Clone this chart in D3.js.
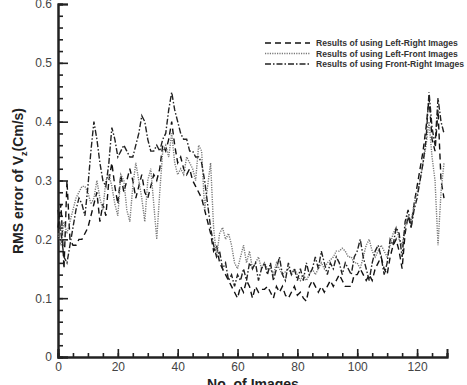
<!DOCTYPE html>
<html>
<head>
<meta charset="utf-8">
<script src="https://cdn.jsdelivr.net/npm/d3@7"></script>
<style>
  body { margin: 0; background: #fff; }
  svg { display: block; font-family: "Liberation Sans", Arial, sans-serif; }
</style>
</head>
<body>
<svg id="chart" width="467" height="385"></svg>
<script>
// RMS error values per image index (0..129)
const leftRight = [
  0.22,0.26,0.15,0.30,0.20,0.19,0.19,0.20,0.20,0.21,
  0.22,0.24,0.26,0.28,0.23,0.26,0.24,0.30,0.33,0.29,
  0.26,0.31,0.28,0.30,0.32,0.30,0.27,0.29,0.31,0.28,
  0.27,0.29,0.31,0.30,0.32,0.36,0.35,0.37,0.40,0.36,
  0.33,0.34,0.32,0.31,0.32,0.30,0.29,0.28,0.27,0.25,
  0.23,0.21,0.18,0.19,0.16,0.15,0.14,0.13,0.12,0.11,
  0.10,0.12,0.11,0.13,0.12,0.10,0.12,0.11,0.115,0.115,
  0.12,0.11,0.10,0.12,0.11,0.12,0.105,0.10,0.11,0.12,
  0.105,0.11,0.10,0.095,0.12,0.13,0.12,0.11,0.12,0.11,
  0.12,0.13,0.12,0.13,0.14,0.13,0.12,0.12,0.12,0.14,
  0.14,0.15,0.14,0.13,0.14,0.13,0.15,0.16,0.17,0.15,
  0.14,0.17,0.19,0.20,0.18,0.15,0.21,0.24,0.22,0.26,
  0.29,0.32,0.35,0.39,0.44,0.37,0.35,0.42,0.30,0.27
];
const leftFront = [
  0.21,0.19,0.23,0.21,0.23,0.25,0.27,0.28,0.29,0.29,
  0.28,0.26,0.27,0.30,0.27,0.25,0.30,0.31,0.29,0.26,
  0.24,0.31,0.30,0.25,0.23,0.29,0.33,0.30,0.27,0.23,
  0.30,0.32,0.26,0.20,0.28,0.35,0.36,0.34,0.38,0.33,
  0.31,0.32,0.31,0.34,0.33,0.32,0.30,0.36,0.35,0.25,
  0.29,0.33,0.22,0.17,0.21,0.22,0.20,0.21,0.19,0.16,
  0.15,0.17,0.19,0.16,0.18,0.15,0.16,0.17,0.15,0.16,
  0.15,0.15,0.14,0.16,0.15,0.14,0.145,0.15,0.14,0.15,
  0.14,0.13,0.14,0.13,0.14,0.15,0.14,0.15,0.16,0.15,
  0.16,0.165,0.17,0.18,0.18,0.185,0.18,0.17,0.17,0.16,
  0.16,0.15,0.17,0.19,0.20,0.18,0.17,0.18,0.19,0.18,
  0.17,0.19,0.21,0.22,0.20,0.19,0.22,0.24,0.23,0.26,
  0.28,0.30,0.33,0.36,0.40,0.34,0.30,0.19,0.28,0.33
];
const frontRight = [
  0.25,0.21,0.17,0.16,0.19,0.22,0.25,0.27,0.26,0.24,
  0.29,0.35,0.40,0.37,0.33,0.30,0.29,0.33,0.39,0.37,
  0.34,0.35,0.36,0.35,0.34,0.34,0.36,0.38,0.41,0.40,
  0.37,0.35,0.35,0.36,0.35,0.37,0.38,0.42,0.45,0.42,
  0.40,0.38,0.37,0.37,0.35,0.35,0.34,0.34,0.33,0.30,
  0.26,0.22,0.19,0.17,0.18,0.15,0.16,0.13,0.14,0.12,
  0.14,0.13,0.15,0.13,0.16,0.15,0.16,0.13,0.15,0.16,
  0.14,0.16,0.13,0.15,0.17,0.14,0.13,0.16,0.14,0.15,
  0.13,0.15,0.13,0.16,0.14,0.15,0.17,0.15,0.18,0.16,
  0.14,0.16,0.15,0.17,0.16,0.14,0.16,0.15,0.14,0.17,
  0.18,0.20,0.17,0.15,0.13,0.16,0.18,0.19,0.17,0.14,
  0.16,0.20,0.19,0.22,0.21,0.17,0.23,0.25,0.22,0.25,
  0.27,0.30,0.33,0.37,0.45,0.39,0.36,0.44,0.40,0.38
];
const xTicks = [0, 20, 40, 60, 80, 100, 120];
const yTicks = [0, 0.1, 0.2, 0.3, 0.4, 0.5, 0.6];
const seriesNames = [
  "Results of using Left-Right Images",
  "Results of using Left-Front Images",
  "Results of using Front-Right Images"
];

const svg = d3.select("svg#chart");
const area = { left: 58, right: 447, top: 4, bottom: 357 };

const scX = d3.scaleLinear().domain([0, 130]).range([area.left, area.right]);
const scY = d3.scaleLinear().domain([0, 0.6]).range([area.bottom, area.top]);

// axes: ticks point inward
const axisX = d3.axisBottom(scX).tickValues(xTicks).tickSize(-8).tickPadding(5)
  .tickFormat(d3.format("d"));
const axisXminor = d3.axisBottom(scX).tickValues(d3.range(0, 131, 5)).tickSize(-4).tickFormat("");
const axisY = d3.axisLeft(scY).tickValues(yTicks).tickSize(-10).tickPadding(6)
  .tickFormat(d => d === 0 ? "0" : d3.format(".1f")(d));
const axisYminor = d3.axisLeft(scY).tickValues(d3.range(0, 31).map(i => i * 0.02)).tickSize(-5).tickFormat("");

function styleAxis(g) {
  g.select(".domain").attr("stroke", "#222").attr("stroke-width", 2);
  g.selectAll(".tick line").attr("stroke", "#222").attr("stroke-width", 1.6);
  g.selectAll("text").attr("fill", "#444").style("font-size", "12px");
}

svg.append("g").attr("transform", `translate(0,${area.bottom})`).call(axisXminor).call(styleAxis);
svg.append("g").attr("transform", `translate(0,${area.bottom})`).call(axisX).call(styleAxis);
svg.append("g").attr("transform", `translate(${area.left},0)`).call(axisYminor).call(styleAxis);
svg.append("g").attr("transform", `translate(${area.left},0)`).call(axisY).call(styleAxis);

// axis titles
svg.append("text")
  .attr("x", 253).attr("y", 389)
  .attr("text-anchor", "middle")
  .style("font-size", "14px").style("font-weight", "bold").attr("fill", "#222")
  .text("No. of Images");

const yTitle = svg.append("text")
  .attr("transform", "translate(23,181) rotate(-90)")
  .attr("text-anchor", "middle")
  .style("font-size", "14px").style("font-weight", "bold").attr("fill", "#222");
yTitle.append("tspan").text("RMS error of V");
yTitle.append("tspan").attr("dy", 4).style("font-size", "9px").text("z");
yTitle.append("tspan").attr("dy", -4).text("(Cm/s)");

// lines
const series = [
  { values: leftRight, dash: "6,4", color: "#111", width: 1.4 },
  { values: leftFront, dash: "1.2,1.2", color: "#777", width: 1.4 },
  { values: frontRight, dash: "6,2,1.5,2", color: "#222", width: 1.4 }
];

const line = d3.line()
  .x((d, i) => scX(i))
  .y(d => scY(d));

series.forEach(s => {
  svg.append("path")
    .datum(s.values)
    .attr("d", line)
    .style("fill", "none")
    .style("stroke", s.color)
    .style("stroke-width", s.width)
    .style("stroke-dasharray", s.dash);
});

// legend
const legend = svg.append("g").attr("transform", "translate(265,43)");
series.forEach((s, i) => {
  const row = legend.append("g").attr("transform", `translate(0,${i * 10.5})`);
  row.append("line")
    .attr("x1", 0).attr("x2", 45).attr("y1", 0).attr("y2", 0)
    .style("stroke", s.color)
    .style("stroke-width", 1.4)
    .style("stroke-dasharray", s.dash);
  row.append("text")
    .attr("x", 51).attr("y", 3)
    .style("font-size", "8.6px").style("font-weight", "bold").attr("fill", "#333")
    .text(seriesNames[i]);
});
</script>
</body>
</html>
